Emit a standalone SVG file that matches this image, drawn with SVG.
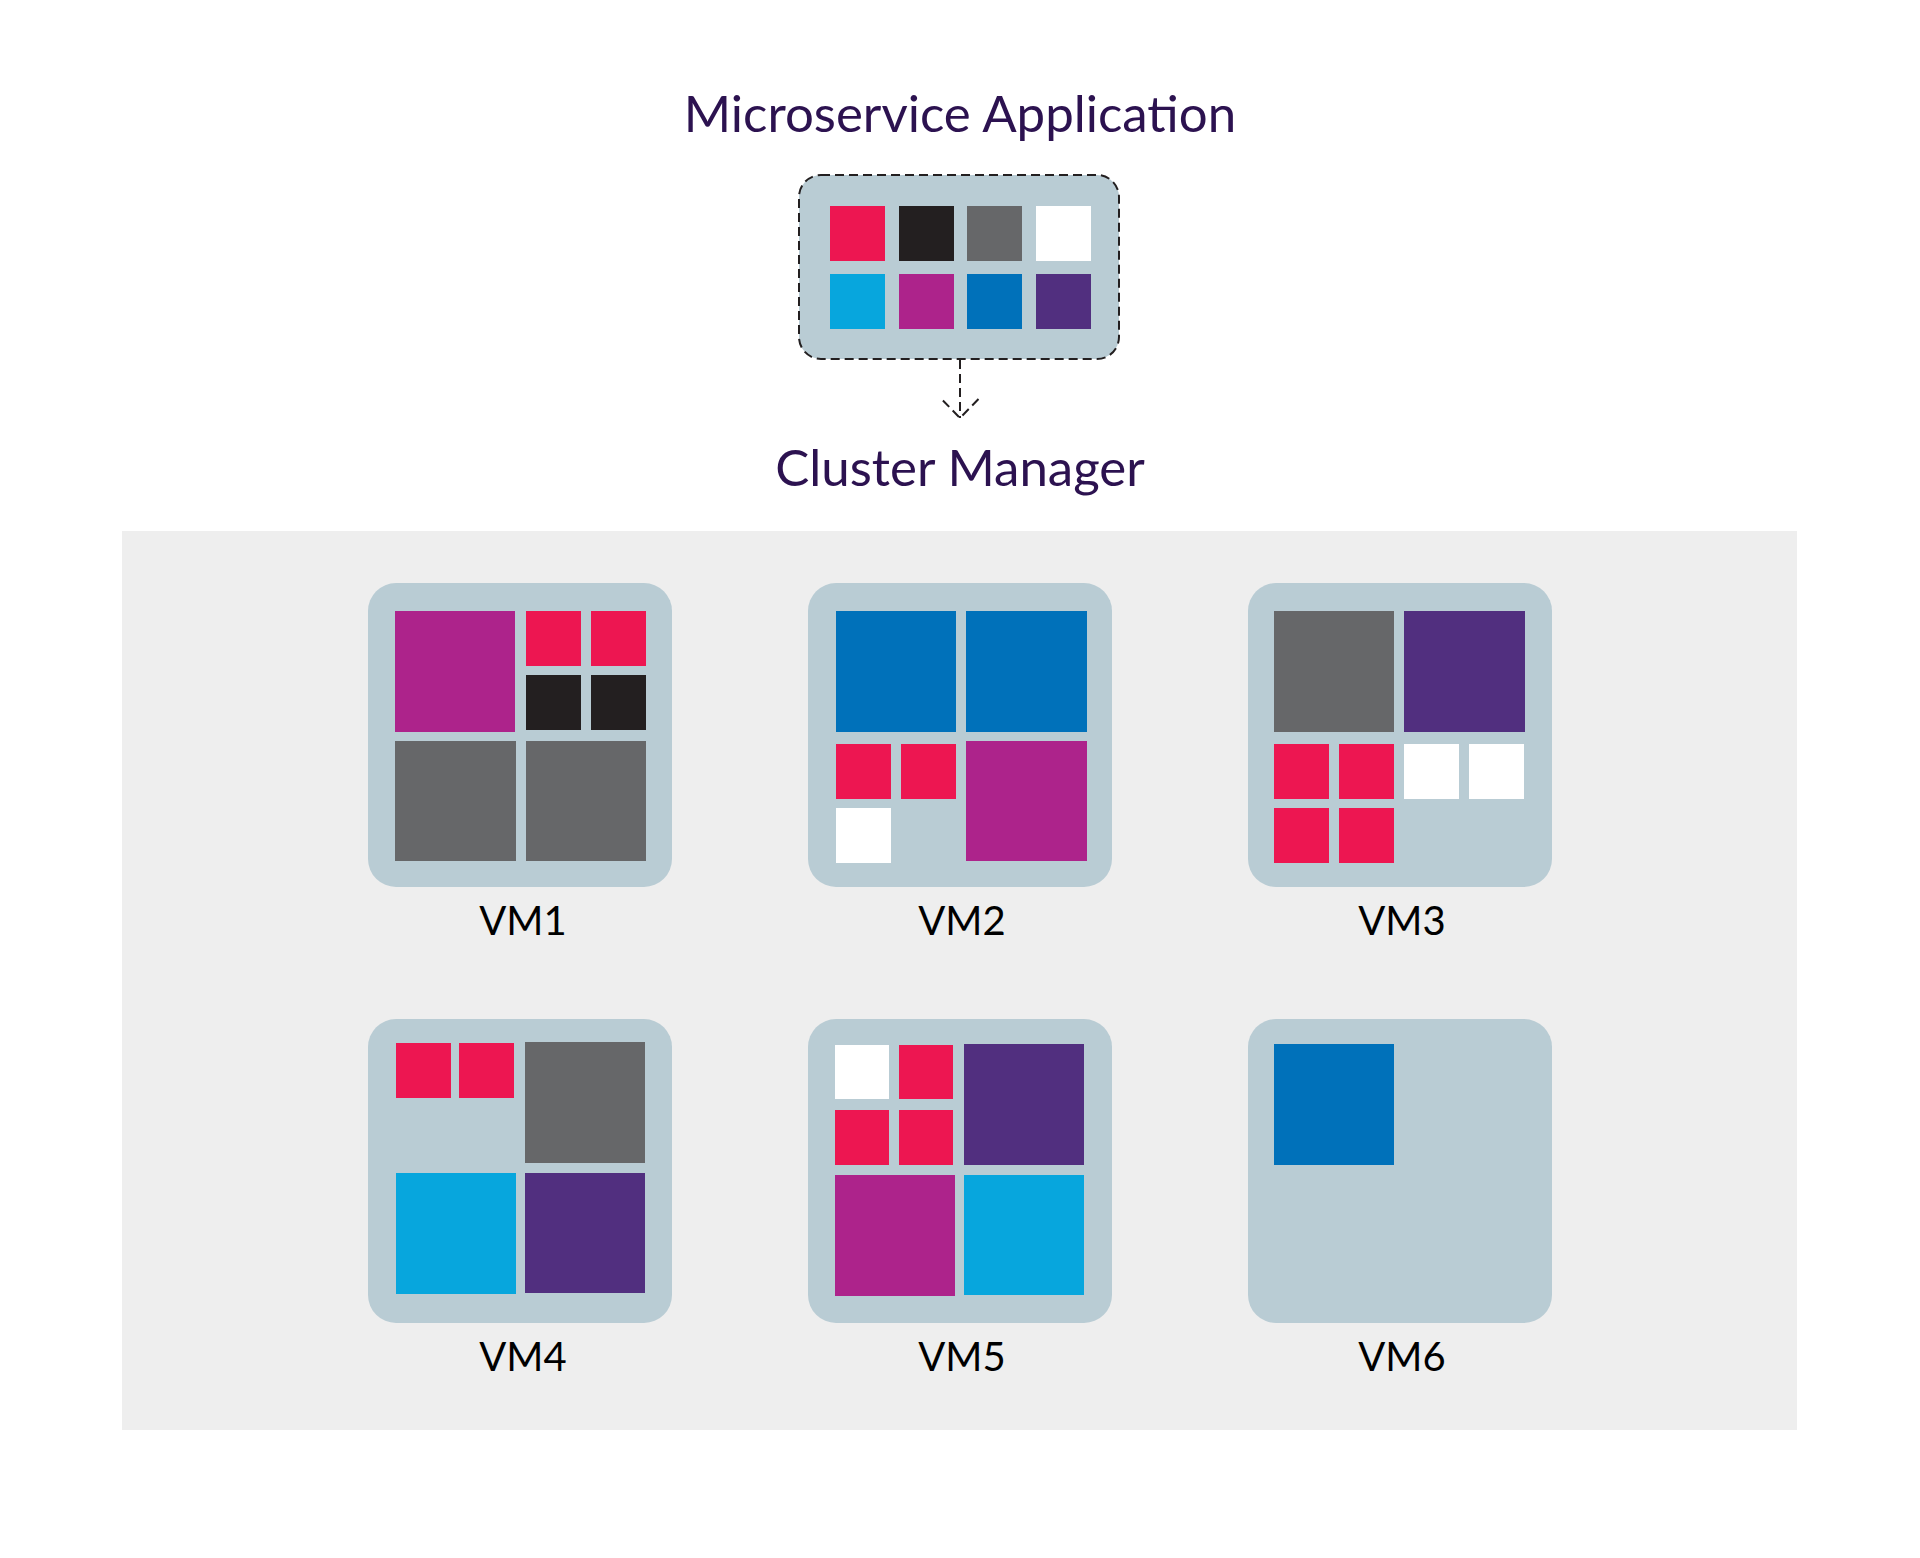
<svg xmlns="http://www.w3.org/2000/svg" width="1920" height="1558" viewBox="0 0 1920 1558">
  <style>
    .title { font-family: Lato, "Liberation Sans", sans-serif; font-size: 51px; fill: #2c1250; text-anchor: middle; }
    .label { font-family: Lato, "Liberation Sans", sans-serif; font-size: 40px; fill: #000000; text-anchor: middle; }
    .vm { fill: #b9ccd4; }
    .r { fill: #ed1651; }
    .k { fill: #231f20; }
    .g { fill: #666769; }
    .w { fill: #ffffff; }
    .c { fill: #07a6dd; }
    .m { fill: #ad238b; }
    .b { fill: #0071ba; }
    .p { fill: #512f7f; }
    .dash { fill: none; stroke: #231f20; stroke-width: 2; stroke-dasharray: 9 5; }
  </style>
  <defs>
    <marker id="chev" markerUnits="userSpaceOnUse" viewBox="-22 -22 44 44" markerWidth="44" markerHeight="44" refX="0" refY="0" orient="auto" overflow="visible">
      <path d="M -19 -18.5 L 0 0 L -19 18.5" fill="none" stroke="#231f20" stroke-width="2" stroke-dasharray="9 5"/>
    </marker>
  </defs>

  <rect x="0" y="0" width="1920" height="1558" fill="#ffffff"/>

  <g id="title">
    <text class="title" x="960" y="132">Microservice Application</text>
  </g>

  <g id="app">
    <rect x="799" y="175" width="320" height="184" rx="22" ry="22" class="vm" stroke="#231f20" stroke-width="2" stroke-dasharray="9 5"/>
    <rect class="r" x="830" y="206" width="55" height="55"/>
    <rect class="k" x="899" y="206" width="55" height="55"/>
    <rect class="g" x="967" y="206" width="55" height="55"/>
    <rect class="w" x="1036" y="206" width="55" height="55"/>
    <rect class="c" x="830" y="274" width="55" height="55"/>
    <rect class="m" x="899" y="274" width="55" height="55"/>
    <rect class="b" x="967" y="274" width="55" height="55"/>
    <rect class="p" x="1036" y="274" width="55" height="55"/>
  </g>

  <g id="connectors">
    <path class="dash" d="M 960 360 L 960 418" marker-end="url(#chev)"/>
  </g>

  <g id="cluster-manager">
    <text class="title" x="960" y="486">Cluster Manager</text>
    <rect x="122" y="531" width="1675" height="899" fill="#eeeeee"/>
  </g>

  <g id="vm1">
    <rect class="vm" x="368" y="583" width="304" height="304" rx="28" ry="28"/>
    <rect class="m" x="395" y="611" width="120" height="121"/>
    <rect class="r" x="526" y="611" width="55" height="55"/>
    <rect class="r" x="591" y="611" width="55" height="55"/>
    <rect class="k" x="526" y="675" width="55" height="55"/>
    <rect class="k" x="591" y="675" width="55" height="55"/>
    <rect class="g" x="395" y="741" width="121" height="120"/>
    <rect class="g" x="526" y="741" width="120" height="120"/>
    <text class="label" x="523" y="935">VM1</text>
  </g>

  <g id="vm2">
    <rect class="vm" x="808" y="583" width="304" height="304" rx="28" ry="28"/>
    <rect class="b" x="836" y="611" width="120" height="121"/>
    <rect class="b" x="966" y="611" width="121" height="121"/>
    <rect class="r" x="836" y="744" width="55" height="55"/>
    <rect class="r" x="901" y="744" width="55" height="55"/>
    <rect class="w" x="836" y="808" width="55" height="55"/>
    <rect class="m" x="966" y="741" width="121" height="120"/>
    <text class="label" x="962" y="935">VM2</text>
  </g>

  <g id="vm3">
    <rect class="vm" x="1248" y="583" width="304" height="304" rx="28" ry="28"/>
    <rect class="g" x="1274" y="611" width="120" height="121"/>
    <rect class="p" x="1404" y="611" width="121" height="121"/>
    <rect class="r" x="1274" y="744" width="55" height="55"/>
    <rect class="r" x="1339" y="744" width="55" height="55"/>
    <rect class="w" x="1404" y="744" width="55" height="55"/>
    <rect class="w" x="1469" y="744" width="55" height="55"/>
    <rect class="r" x="1274" y="808" width="55" height="55"/>
    <rect class="r" x="1339" y="808" width="55" height="55"/>
    <text class="label" x="1402" y="935">VM3</text>
  </g>

  <g id="vm4">
    <rect class="vm" x="368" y="1019" width="304" height="304" rx="28" ry="28"/>
    <rect class="r" x="396" y="1043" width="55" height="55"/>
    <rect class="r" x="459" y="1043" width="55" height="55"/>
    <rect class="g" x="525" y="1042" width="120" height="121"/>
    <rect class="c" x="396" y="1173" width="120" height="121"/>
    <rect class="p" x="525" y="1173" width="120" height="120"/>
    <text class="label" x="523" y="1371">VM4</text>
  </g>

  <g id="vm5">
    <rect class="vm" x="808" y="1019" width="304" height="304" rx="28" ry="28"/>
    <rect class="w" x="835" y="1045" width="54" height="54"/>
    <rect class="r" x="899" y="1045" width="54" height="54"/>
    <rect class="r" x="835" y="1110" width="54" height="55"/>
    <rect class="r" x="899" y="1110" width="54" height="55"/>
    <rect class="p" x="964" y="1044" width="120" height="121"/>
    <rect class="m" x="835" y="1175" width="120" height="121"/>
    <rect class="c" x="964" y="1175" width="120" height="120"/>
    <text class="label" x="962" y="1371">VM5</text>
  </g>

  <g id="vm6">
    <rect class="vm" x="1248" y="1019" width="304" height="304" rx="28" ry="28"/>
    <rect class="b" x="1274" y="1044" width="120" height="121"/>
    <text class="label" x="1402" y="1371">VM6</text>
  </g>
</svg>
